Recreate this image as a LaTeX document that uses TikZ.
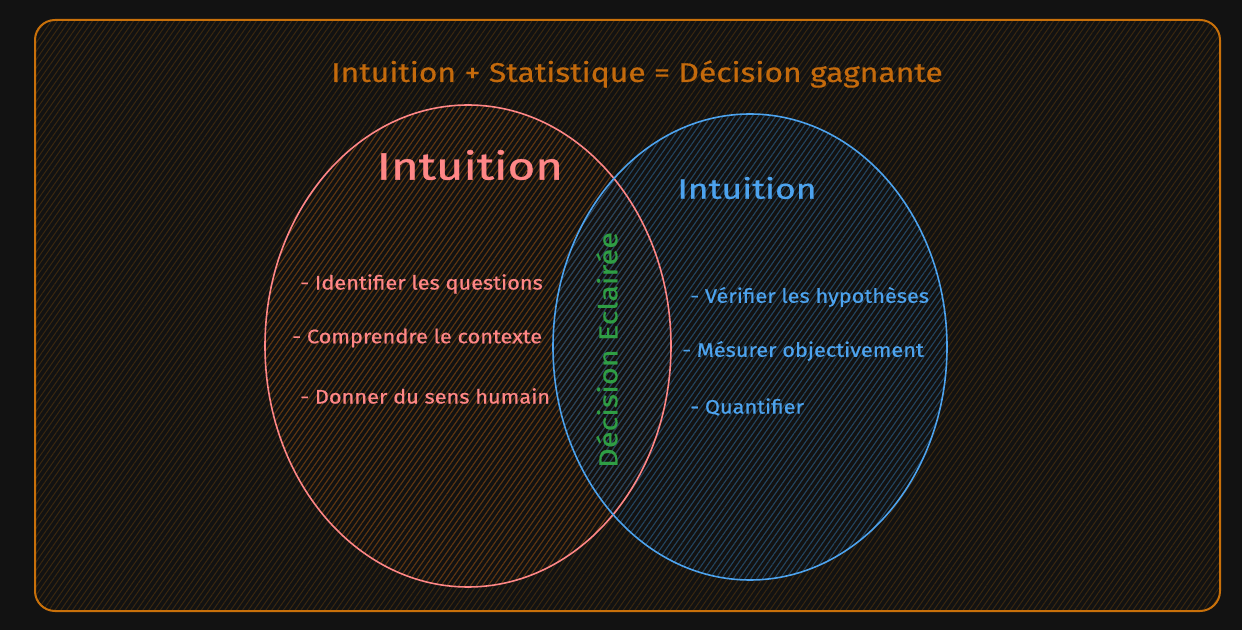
\documentclass[tikz,border=0pt]{standalone}
\usepackage{fontspec}
\setmainfont{Fira Sans}
\usetikzlibrary{patterns.meta}
\definecolor{bg}{HTML}{121212}
\definecolor{frameor}{HTML}{C8700A}
\definecolor{titleor}{HTML}{C46A0C}
\definecolor{rednode}{HTML}{FF8787}
\definecolor{bluenode}{HTML}{4DA3EE}
\definecolor{greentxt}{HTML}{2F9E44}
\definecolor{hatchor}{HTML}{3A2810}
\definecolor{hatchred}{HTML}{5E3612}
\definecolor{hatchblue}{HTML}{1D4466}
\tikzset{
  hatch/.style={pattern={Lines[angle=55,distance=2.4pt,line width=0.5pt]}, pattern color=#1},
  item/.style={anchor=west, font=\fontsize{9.8}{11}\selectfont\addfontfeature{FakeStretch=1.11,FakeBold=0.6}, inner sep=0pt},
}
\begin{document}
\begin{tikzpicture}[x=0.5pt,y=-0.5pt]
\fill[bg] (0,0) rectangle (1242,630);
\useasboundingbox (0,0) rectangle (1242,630);
% frame
\path[hatch=hatchor] (35,20) [rounded corners=10pt] rectangle (1220,611);
\draw[frameor, line width=1pt, rounded corners=10pt] (35,20) rectangle (1220,611);
% title
\node[text=titleor, font=\fontsize{13.5}{15}\selectfont\addfontfeature{FakeStretch=1.18,FakeBold=0.6}] (title) at (637,74) {Intuition + Statistique = Décision gagnante};
% ellipses
\path[hatch=hatchred] (468,346) ellipse [x radius=203, y radius=241];
\path[hatch=hatchblue] (750,347) ellipse [x radius=197, y radius=233];
\draw[rednode, line width=0.8pt] (468,346) ellipse [x radius=203, y radius=241];
\draw[bluenode, line width=0.8pt] (750,347) ellipse [x radius=197, y radius=233];
\coordinate (redc) at (468,346);
\coordinate (bluec) at (750,347);
% headings
\node[text=rednode, font=\fontsize{19}{22}\selectfont\addfontfeature{FakeStretch=1.25,FakeBold=1}] (redh) at (470,165) {Intuition};
\node[text=bluenode, font=\fontsize{14}{16}\selectfont\addfontfeature{FakeStretch=1.27,FakeBold=0.8}] (blueh) at (747,188) {Intuition};
% red items
\node[item, text=rednode] (r1) at (300,284) {- Identifier les questions};
\node[item, text=rednode] (r2) at (292,338) {- Comprendre le contexte};
\node[item, text=rednode] (r3) at (300,396) {- Donner du sens humain};
% blue items
\node[item, text=bluenode] (b1) at (690,297) {- Vérifier les hypothèses};
\node[item, text=bluenode] (b2) at (682,351) {- Mésurer objectivement};
\node[item, text=bluenode] (b3) at (690,407) {- Quantifier};
% intersection
\node[text=greentxt, rotate=90, font=\fontsize{13}{15}\selectfont\addfontfeature{FakeStretch=1.18,FakeBold=0.6}] (inter) at (607,350) {Décision Eclairée};
\end{tikzpicture}
\end{document}
